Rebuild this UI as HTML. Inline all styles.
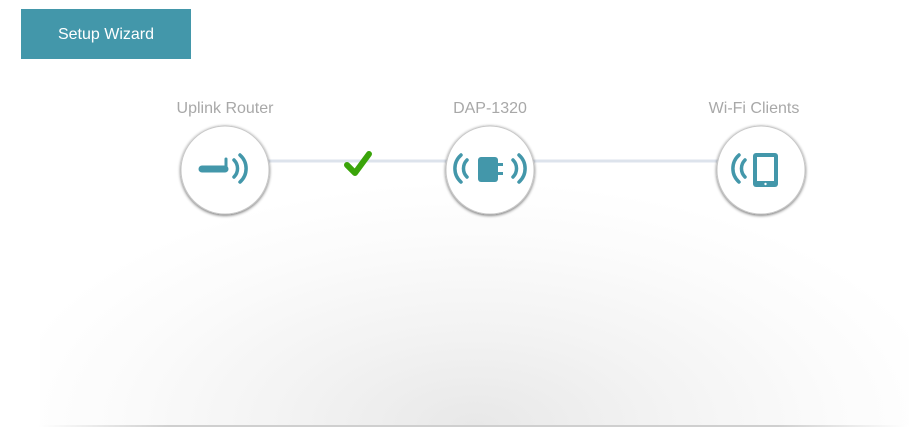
<!DOCTYPE html>
<html><head><style>
body{margin:0;width:909px;height:438px;background:#fff;overflow:hidden;position:relative;font-family:"Liberation Sans",sans-serif}
.btn{position:absolute;left:21px;top:9px;width:170px;height:50px;background:#4397aa;color:#fff;font-size:16px;line-height:52px;text-align:center}
.glow{position:absolute;left:40px;top:180px;width:870px;height:246px;background:radial-gradient(ellipse 55% 100% at 50% 100%,#e8e8e8 0%,#f3f3f3 40%,#fbfbfb 75%,#fff 100%)}
.base{position:absolute;left:38px;top:425px;width:870px;height:2px;background:linear-gradient(90deg,#fff,#cfcfcf 15%,#cfcfcf 85%,#fff)}
.lbl{position:absolute;top:100px;font-size:16px;color:#a8a8a8;width:200px;text-align:center}
</style></head><body>
<div class="glow"></div><div class="base"></div>
<div class="btn">Setup Wizard</div>
<div class="lbl" style="left:125px">Uplink Router</div>
<div class="lbl" style="left:390px">DAP-1320</div>
<div class="lbl" style="left:654px">Wi-Fi Clients</div>
<svg width="909" height="438" style="position:absolute;left:0;top:0">
<defs><filter id="s" x="-30%" y="-30%" width="160%" height="160%"><feGaussianBlur in="SourceAlpha" stdDeviation="1.5"/><feOffset dx="0" dy="1"/><feComponentTransfer><feFuncA type="linear" slope="0.6"/></feComponentTransfer><feMerge><feMergeNode/><feMergeNode in="SourceGraphic"/></feMerge></filter></defs>
<line x1="225" y1="161" x2="761" y2="161" stroke="#dde3ec" stroke-width="3"/>
<circle cx="225" cy="170" r="44" fill="#fff" stroke="#c8c8c8" stroke-width="1" filter="url(#s)"/>
<circle cx="490" cy="170" r="44" fill="#fff" stroke="#c8c8c8" stroke-width="1" filter="url(#s)"/>
<circle cx="761" cy="170" r="44" fill="#fff" stroke="#c8c8c8" stroke-width="1" filter="url(#s)"/>
<g fill="none" stroke="#4397aa" stroke-width="3.5" stroke-linecap="round">
<line x1="202" y1="169" x2="225" y2="169" stroke-width="7"/>
<line x1="226" y1="159" x2="226" y2="170" stroke-width="3"/>
<path d="M234 160 a12 12 0 0 1 0 17"/><path d="M240 155 a18 18 0 0 1 0 27"/>
<path d="M467 160 a12 12 0 0 0 0 17"/><path d="M461 155 a18 18 0 0 0 0 27"/>
<path d="M513 160 a12 12 0 0 1 0 17"/><path d="M519 155 a18 18 0 0 1 0 27"/>
<path d="M745 160 a12 12 0 0 0 0 17"/><path d="M739 155 a18 18 0 0 0 0 27"/>
</g>
<rect x="478" y="157" width="20" height="25" rx="3" fill="#4397aa"/>
<rect x="497" y="163" width="6" height="3" fill="#4397aa"/><rect x="497" y="172" width="6" height="3" fill="#4397aa"/>
<rect x="753" y="153" width="25" height="34" rx="3" fill="#4397aa"/>
<rect x="757" y="157" width="17" height="24" fill="#fff"/>
<circle cx="765.5" cy="184" r="1.2" fill="#fff"/>
<path d="M347 165 l8 8 l14 -19" fill="none" stroke="#3aa40a" stroke-width="6" stroke-linecap="round" stroke-linejoin="round"/>
</svg>
</body></html>
